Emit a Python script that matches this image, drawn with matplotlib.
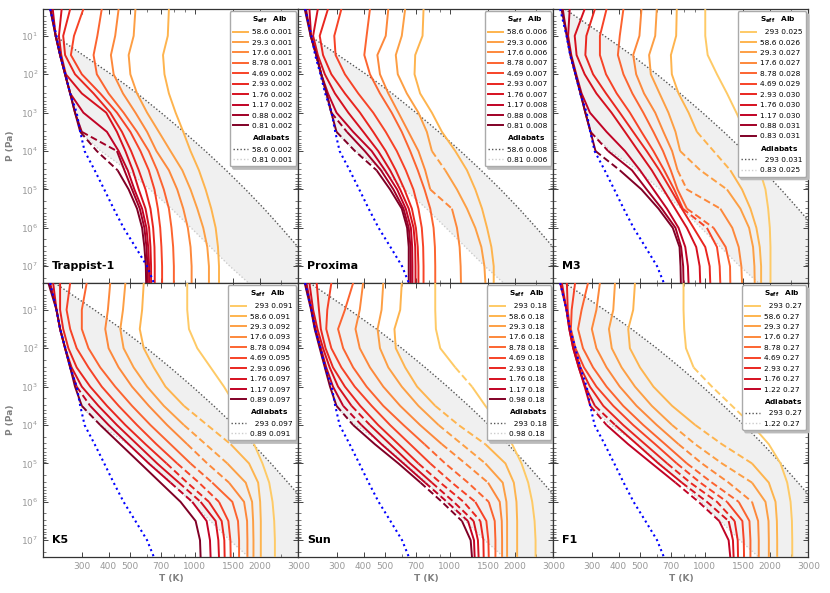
import numpy as np
import matplotlib
matplotlib.use("Agg")
import matplotlib.pyplot as plt
from matplotlib.lines import Line2D
from matplotlib.ticker import FixedLocator, NullFormatter, FixedFormatter

# ---------------- data ----------------
P_LEVELS = [2.0, 10, 31.6, 100, 316, 1000, 3162, 1e4, 3.16e4, 1e5, 3.16e5, 1e6, 3.16e6, 1e7, 2.8e7]

BLUE_T = [215, 230, 239, 253, 266, 285, 296, 310, 345, 382, 422, 469, 532, 602, 648]

# adiabats
HOT_LOW_T = [226, 305, 411, 542, 698, 889, 1119, 1393, 1714, 2084, 2506, 2992, 3556, 4111]   # from 10 Pa down
HOT_293_T = [226, 344, 459, 600, 769, 975, 1222, 1514, 1854, 2244, 2690, 3206, 3800, 4470, 5130]
COLD_T = [215, 231, 240, 252, 266, 282, 296, 368, 490, 620, 780, 960, 1180, 1450, 1778]

# Trappist-1
TRAP_S = ['58.6', '29.3', '17.6', '8.78', '4.69', '2.93', '1.76', '1.17', '0.88', '0.81']
TRAP_ALB = ['0.001', '0.001', '0.001', '0.001', '0.002', '0.002', '0.002', '0.002', '0.002', '0.002']
TRAP_ADIA = [('58.6', '0.002'), ('0.81', '0.001')]
TRAP_T = [
    [759, 750, 713, 724, 759, 815, 884, 955, 1044, 1121, 1190, 1247, 1278, 1292, 1292],
    [532, 522, 495, 504, 541, 602, 682, 772, 875, 955, 1026, 1093, 1141, 1161, 1161],
    [445, 429, 410, 422, 466, 532, 602, 665, 759, 829, 884, 928, 955, 966, 966],
    [372, 355, 341, 353, 400, 469, 541, 613, 670, 719, 759, 780, 794, 800, 800],
    [306, 277, 268, 301, 366, 437, 504, 561, 613, 651, 675, 692, 701, 706, 706],
    [266, 247, 252, 280, 341, 407, 461, 508, 551, 592, 624, 642, 651, 653, 653],
    [243, 236, 242, 254, 301, 390, 437, 478, 517, 551, 592, 615, 624, 628, 628],
    [221, 228, 239, 252, 266, 306, 393, 445, 490, 526, 571, 598, 609, 615, 615],
    [216, 228, 239, 252, 266, 280, 301, 437, 473, 513, 557, 585, 598, 604, 604],
    [215, 228, 239, 252, 266, 280, 296, 353, 440, 495, 541, 571, 585, 594, 596],
]
TRAP_DASH = [[], [], [], [], [], [], [], [], [(6, 7)], [(6, 8)]]

# Proxima
PROX_S = ['58.6', '29.3', '17.6', '8.78', '4.69', '2.93', '1.76', '1.17', '0.88', '0.81']
PROX_ALB = ['0.006', '0.006', '0.006', '0.007', '0.007', '0.007', '0.007', '0.008', '0.008', '0.008']
PROX_ADIA = [('58.6', '0.008'), ('0.81', '0.006')]
PROX_T = [
    [756, 748, 692, 687, 729, 826, 919, 1059, 1199, 1310, 1407, 1484, 1554, 1593, 1593],
    [622, 600, 563, 575, 633, 716, 783, 826, 952, 1078, 1199, 1310, 1397, 1443, 1458],
    [520, 506, 463, 476, 520, 579, 644, 716, 769, 812, 1022, 1078, 1109, 1121, 1125],
    [428, 413, 403, 428, 476, 539, 600, 656, 711, 764, 812, 841, 853, 856, 856],
    [316, 293, 297, 328, 378, 443, 506, 569, 626, 679, 716, 742, 753, 756, 756],
    [274, 251, 260, 284, 328, 385, 443, 506, 563, 617, 668, 697, 711, 716, 716],
    [246, 234, 246, 265, 295, 340, 399, 467, 530, 590, 646, 680, 692, 694, 694],
    [225, 229, 242, 255, 274, 300, 358, 436, 502, 571, 626, 661, 670, 672, 672],
    [217, 228, 242, 255, 270, 284, 335, 405, 481, 549, 611, 646, 658, 660, 660],
    [214, 228, 242, 255, 270, 284, 300, 365, 459, 530, 600, 635, 646, 646, 646],
]
PROX_DASH = [[], [(7, 8)], [(9, 10)], [], [], [], [], [], [(5, 6)], [(6, 8)]]

# M3
M3_S = ['293', '58.6', '29.3', '17.6', '8.78', '4.69', '2.93', '1.76', '1.17', '0.88', '0.83']
M3_ALB = ['0.025', '0.026', '0.027', '0.027', '0.028', '0.029', '0.030', '0.030', '0.030', '0.031', '0.031']
M3_ADIA = [('293', '0.031'), ('0.83', '0.025')]
M3_T = [
    [1004, 1004, 1030, 1137, 1265, 1397, 1538, 1672, 1791, 1903, 1958, 1993, 2007, 2007, 2007],
    [742, 737, 697, 704, 756, 841, 919, 1097, 1310, 1484, 1622, 1728, 1791, 1817, 1817],
    [600, 590, 553, 563, 618, 679, 732, 769, 952, 1265, 1458, 1599, 1668, 1692, 1698],
    [510, 499, 467, 482, 524, 590, 644, 706, 748, 826, 1178, 1338, 1432, 1473, 1484],
    [421, 405, 397, 421, 463, 520, 579, 641, 696, 748, 826, 1097, 1247, 1306, 1310],
    [352, 328, 328, 350, 392, 451, 510, 579, 649, 722, 791, 1022, 1137, 1170, 1178],
    [311, 284, 281, 305, 350, 405, 467, 539, 617, 696, 783, 887, 1004, 1052, 1059],
    [279, 251, 256, 279, 316, 371, 428, 493, 569, 644, 729, 826, 912, 946, 952],
    [238, 234, 242, 255, 270, 295, 352, 428, 502, 579, 668, 756, 812, 835, 841],
    [221, 231, 240, 253, 267, 281, 297, 358, 461, 539, 633, 732, 777, 794, 797],
    [218, 231, 240, 253, 267, 281, 297, 313, 405, 510, 611, 711, 764, 772, 775],
]
M3_DASH = [[], [(6, 8)], [(7, 9)], [(8, 10)], [(10, 11)], [(10, 11)], [], [], [], [(6, 7)], [(7, 8)]]

# K5
K5_S = ['293', '58.6', '29.3', '17.6', '8.78', '4.69', '2.93', '1.76', '1.17', '0.89']
K5_ALB = ['0.091', '0.091', '0.092', '0.093', '0.094', '0.095', '0.096', '0.097', '0.097', '0.097']
K5_ADIA = [('293', '0.097'), ('0.89', '0.091')]
K5_T = [
    [922, 922, 939, 1026, 1182, 1362, 1543, 1716, 1876, 2050, 2202, 2281, 2322, 2339, 2339],
    [581, 571, 557, 581, 646, 732, 890, 1141, 1463, 1778, 1958, 2000, 2014, 2014, 2014],
    [478, 466, 453, 469, 522, 602, 719, 890, 1121, 1412, 1716, 1836, 1856, 1863, 1863],
    [407, 397, 386, 400, 445, 513, 613, 745, 922, 1141, 1437, 1686, 1741, 1747, 1747],
    [317, 301, 301, 323, 366, 429, 513, 624, 772, 955, 1203, 1489, 1581, 1599, 1599],
    [266, 256, 266, 285, 323, 372, 445, 541, 665, 829, 1044, 1292, 1427, 1458, 1463],
    [239, 239, 247, 261, 285, 329, 393, 478, 592, 740, 922, 1161, 1329, 1367, 1372],
    [222, 230, 239, 252, 270, 301, 359, 437, 541, 670, 844, 1063, 1247, 1283, 1292],
    [215, 230, 239, 252, 266, 285, 329, 400, 495, 613, 772, 973, 1133, 1174, 1182],
    [211, 230, 239, 252, 266, 280, 301, 366, 453, 561, 694, 859, 1008, 1056, 1063],
]
K5_DASH = [[], [(6, 8)], [(7, 9)], [(8, 10)], [(9, 10)], [(9, 11)], [(9, 11)], [(10, 11)], [(5, 6), (10, 11)], [(6, 7)]]

# Sun
SUN_S = ['293', '58.6', '29.3', '17.6', '8.78', '4.69', '2.93', '1.76', '1.17', '0.98']
SUN_ALB = ['0.18'] * 10
SUN_ADIA = [('293', '0.18'), ('0.98', '0.18')]
SUN_T = [
    [856, 856, 862, 903, 1059, 1265, 1458, 1710, 1937, 2140, 2297, 2397, 2458, 2484, 2484],
    [600, 590, 555, 563, 622, 706, 856, 1097, 1458, 1804, 1972, 2028, 2043, 2043, 2043],
    [493, 484, 464, 476, 520, 600, 716, 887, 1137, 1458, 1753, 1823, 1836, 1836, 1836],
    [398, 384, 367, 384, 428, 493, 590, 729, 919, 1178, 1500, 1698, 1735, 1741, 1741],
    [358, 328, 305, 322, 358, 413, 493, 611, 764, 952, 1212, 1511, 1610, 1622, 1622],
    [284, 272, 269, 284, 316, 364, 436, 530, 656, 812, 1022, 1310, 1473, 1505, 1511],
    [243, 249, 254, 267, 289, 328, 386, 467, 579, 716, 903, 1157, 1382, 1427, 1432],
    [225, 234, 245, 260, 279, 305, 352, 428, 530, 656, 826, 1041, 1287, 1347, 1357],
    [218, 230, 240, 254, 269, 289, 322, 391, 484, 611, 769, 969, 1212, 1292, 1301],
    [214, 229, 238, 251, 265, 280, 300, 358, 451, 579, 732, 919, 1137, 1247, 1265],
]
SUN_DASH = [[(4, 5)], [(6, 8)], [(7, 9)], [(8, 10)], [(8, 11)], [(9, 11)], [(9, 12)],
            [(6, 7), (10, 12)], [(6, 7), (10, 12)], [(6, 7), (10, 12)]]

# F1
F1_S = ['293', '58.6', '29.3', '17.6', '8.78', '4.69', '2.93', '1.76', '1.22']
F1_ALB = ['0.27'] * 9
F1_ADIA = [('293', '0.27'), ('1.22', '0.27')]
F1_T = [
    [797, 797, 803, 818, 887, 1078, 1334, 1650, 1972, 2233, 2397, 2484, 2520, 2529, 2529],
    [476, 467, 443, 451, 502, 579, 706, 903, 1199, 1650, 1972, 2117, 2148, 2155, 2155],
    [385, 378, 361, 372, 413, 476, 569, 706, 903, 1199, 1650, 1903, 1965, 1972, 1972],
    [328, 316, 301, 316, 352, 405, 484, 600, 756, 969, 1287, 1650, 1760, 1772, 1772],
    [289, 270, 260, 274, 305, 352, 420, 520, 656, 826, 1078, 1432, 1605, 1622, 1622],
    [252, 243, 241, 253, 277, 316, 378, 467, 590, 742, 952, 1265, 1489, 1511, 1516],
    [231, 233, 238, 249, 267, 295, 340, 420, 530, 670, 856, 1137, 1372, 1417, 1422],
    [219, 230, 237, 247, 262, 281, 311, 386, 486, 611, 783, 1022, 1287, 1347, 1357],
    [215, 230, 237, 247, 262, 279, 296, 352, 443, 569, 732, 935, 1165, 1287, 1310],
]
F1_DASH = [[(4, 7)], [(7, 9)], [(7, 10)], [(8, 11)], [(9, 11)], [(9, 11)], [(9, 12)],
           [(6, 7), (10, 12)], [(6, 7), (10, 12)]]

X_TICKS = [300, 400, 500, 700, 1000, 1500, 2000, 3000]
X_MINOR = [600, 800, 900, 2500]
Y_TICKS = [1e1, 1e2, 1e3, 1e4, 1e5, 1e6, 1e7]
Y_LABELS = [r'$10^{%d}$' % k for k in range(1, 8)]
Y_MINOR = [m * 10.0 ** e for e in range(0, 8) for m in range(2, 10) if 2.0 <= m * 10.0 ** e <= 2.7e7]

# ---------------- style ----------------
COLOR_RANK = {'293': 0, '58.6': 1, '29.3': 2, '17.6': 3, '8.78': 4, '4.69': 5, '2.93': 6,
              '1.76': 7, '1.17': 8, '1.22': 8, '0.88': 9, '0.81': 10, '0.83': 10,
              '0.89': 10, '0.98': 10}
cmap = plt.get_cmap('YlOrRd')


def s_color(s):
    return cmap(0.30 + 0.07 * COLOR_RANK[s])


def fmt(s, a):
    return s.rjust(4, '\u2007') + ' ' + a


def draw_curve(ax, T, P, dashes, color):
    n = len(T)
    dashed = np.zeros(n - 1, bool)
    for i0, i1 in dashes:
        dashed[i0:i1] = True
    k = 0
    while k < n - 1:
        j = k
        while j < n - 1 and dashed[j] == dashed[k]:
            j += 1
        ls = (0, (3.5, 1.8)) if dashed[k] else '-'
        ax.plot(T[k:j + 1], P[k:j + 1], color=color, lw=1.4, ls=ls,
                solid_capstyle='butt', dash_capstyle='butt', solid_joinstyle='round', zorder=3)
        k = j


PANELS = [
    ('Trappist-1', TRAP_S, TRAP_ALB, TRAP_ADIA, TRAP_T, TRAP_DASH, 'low'),
    ('Proxima', PROX_S, PROX_ALB, PROX_ADIA, PROX_T, PROX_DASH, 'low'),
    ('M3', M3_S, M3_ALB, M3_ADIA, M3_T, M3_DASH, 'high'),
    ('K5', K5_S, K5_ALB, K5_ADIA, K5_T, K5_DASH, 'high'),
    ('Sun', SUN_S, SUN_ALB, SUN_ADIA, SUN_T, SUN_DASH, 'high'),
    ('F1', F1_S, F1_ALB, F1_ADIA, F1_T, F1_DASH, 'high'),
]

fig, axes = plt.subplots(2, 3, figsize=(8.3, 5.93), dpi=100, sharex=True, sharey=True)
fig.subplots_adjust(left=0.0522, right=0.9739, top=0.9848, bottom=0.0607, wspace=0, hspace=0)

P = np.array(P_LEVELS)
for ax, (name, S, ALB, ADIA, TT, DD, kind) in zip(axes.flat, PANELS):
    ax.set_xscale('log')
    ax.set_yscale('log')
    if kind == 'low':
        pa = P[1:]
        hot = np.array(HOT_LOW_T)
        cold = np.array(COLD_T[1:])
    else:
        pa = P
        hot = np.array(HOT_293_T)
        cold = np.array(COLD_T)
    ax.fill_betweenx(pa, cold, hot, color='#f0f0f0', lw=0, zorder=0)
    ax.plot(hot, pa, color='#555555', ls=(0, (1, 1.5)), lw=1.0, zorder=1)
    ax.plot(cold, pa, color='#cccccc', ls=(0, (1, 1.5)), lw=1.0, zorder=1)

    handles = [Line2D([], [], color='none')]
    labels = [r'$\mathbf{S_{eff}}\ \ \ \mathbf{Alb}$']
    for s, a, T, d in zip(S, ALB, TT, DD):
        c = s_color(s)
        draw_curve(ax, np.array(T, float), P, d, c)
        handles.append(Line2D([], [], color=c, lw=1.4))
        labels.append(fmt(s, a))
    ax.plot(BLUE_T, P, color='#0000ff', ls=(0, (1, 1.6)), lw=1.5, zorder=4)

    handles.append(Line2D([], [], color='none'))
    labels.append(r'$\mathbf{Adiabats}$')
    handles.append(Line2D([], [], color='#555555', ls=(0, (1, 1.5)), lw=1.0))
    labels.append(fmt(*ADIA[0]))
    handles.append(Line2D([], [], color='#cccccc', ls=(0, (1, 1.5)), lw=1.0))
    labels.append(fmt(*ADIA[1]))
    leg = ax.legend(handles, labels, loc='upper right', fontsize=5.3, handlelength=2.0,
                    handletextpad=0.6, labelspacing=0.58, borderpad=0.45,
                    borderaxespad=0.3, framealpha=1, edgecolor='#aaaaaa',
                    shadow={'color': '#bbbbbb', 'alpha': 1.0})
    leg.set_zorder(10)

    ax.text(0.035, 0.045, name, transform=ax.transAxes, fontsize=8, fontweight='bold',
            va='bottom', ha='left', zorder=6)

    ax.set_xlim(200, 3000)
    ax.set_ylim(2.73e7, 2.0)
    ax.xaxis.set_major_locator(FixedLocator(X_TICKS))
    ax.xaxis.set_major_formatter(FixedFormatter([str(t) for t in X_TICKS]))
    ax.xaxis.set_minor_locator(FixedLocator(X_MINOR))
    ax.xaxis.set_minor_formatter(NullFormatter())
    ax.yaxis.set_major_locator(FixedLocator(Y_TICKS))
    ax.yaxis.set_major_formatter(FixedFormatter(Y_LABELS))
    ax.yaxis.set_minor_locator(FixedLocator(Y_MINOR))
    ax.yaxis.set_minor_formatter(NullFormatter())
    ax.tick_params(which='both', direction='in', top=True, right=True,
                   labelsize=6.5, labelcolor='#999999', color='#444444')
    ax.tick_params(which='major', length=3.5, width=0.7)
    ax.tick_params(which='minor', length=2, width=0.5)
    for sp in ax.spines.values():
        sp.set_color('#333333')
        sp.set_linewidth(0.9)

for ax in axes[:, 0]:
    ax.set_ylabel('P (Pa)', fontsize=6.5, fontweight='bold', color='#808080')
    ax.yaxis.set_label_coords(-0.112, 0.5)
for ax in axes[1, :]:
    ax.set_xlabel('T (K)', fontsize=6.5, fontweight='bold', color='#808080', labelpad=2)

fig.savefig('out.png', dpi=100)
